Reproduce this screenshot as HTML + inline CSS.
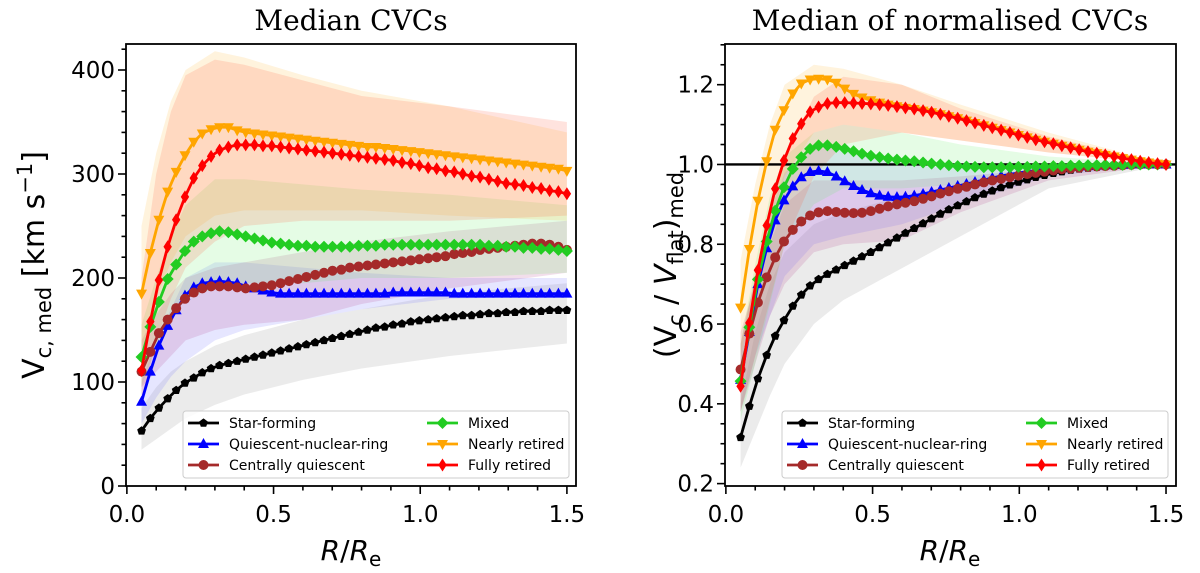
<!DOCTYPE html>
<html><head><meta charset="utf-8">
<style>
html,body{margin:0;padding:0;background:#fff;}
svg{display:block;font-family:"DejaVu Sans","Liberation Sans",sans-serif;}
</style></head>
<body>
<svg id="fig" width="1200" height="573" viewBox="0 0 1200 573" xmlns="http://www.w3.org/2000/svg">
<text x="351" y="30" font-family="DejaVu Serif, Liberation Serif, serif" font-size="28" text-anchor="middle">Median CVCs</text>
<text x="950" y="30" font-family="DejaVu Serif, Liberation Serif, serif" font-size="28" text-anchor="middle">Median of normalised CVCs</text>
<text x="351" y="560" font-size="28" text-anchor="middle"><tspan font-style="italic">R</tspan>/<tspan font-style="italic">R</tspan><tspan font-size="20" baseline-shift="-6">e</tspan></text>
<text x="950" y="560" font-size="28" text-anchor="middle"><tspan font-style="italic">R</tspan>/<tspan font-style="italic">R</tspan><tspan font-size="20" baseline-shift="-6">e</tspan></text>
<text transform="translate(44,265) rotate(-90)" font-size="30" text-anchor="middle">V<tspan font-size="21" baseline-shift="-7">c, med</tspan> [km s<tspan font-size="21" baseline-shift="12">−1</tspan>]</text>
<text transform="translate(676,265) rotate(-90)" font-size="30" text-anchor="middle">(V<tspan font-size="21" baseline-shift="-7">c</tspan> / <tspan font-style="italic">V</tspan><tspan font-size="21" baseline-shift="-7">flat</tspan>)<tspan font-size="21" baseline-shift="-7">med</tspan></text>
</svg>
<script>
const xs=[0.050,0.080,0.109,0.139,0.168,0.198,0.228,0.257,0.287,0.316,0.346,0.376,0.405,0.435,0.464,0.494,0.524,0.553,0.583,0.612,0.642,0.672,0.701,0.731,0.760,0.790,0.820,0.849,0.879,0.908,0.938,0.968,0.997,1.027,1.056,1.086,1.116,1.145,1.175,1.204,1.234,1.264,1.293,1.323,1.352,1.382,1.412,1.441,1.471,1.500];
const seriesNames=["Star-forming","Quiescent-nuclear-ring","Centrally quiescent","Mixed","Nearly retired","Fully retired"];
// Left panel (km/s)
const leftSF=[53,65,75,84,92,99,104,109,113,116,118,120,122,124,126,128,130,132,134,136,138,140,142,144,146,148,150,152,153,155,156,158,159,160,161,162,163,164,164,165,166,166,167,167,168,168,168,169,169,169];
const leftQNR=[81,110,135,154,169,183,191,195,196,197,196,195,192,190,188,186,185,185,185,185,185,185,185,185,185,185,185,185,185,186,186,186,186,186,186,186,185,185,185,185,185,185,185,185,185,185,185,185,185,185];
const leftCQ=[110,129,147,160,171,180,186,190,192,192,192,191,190,191,192,193,195,197,199,201,203,205,207,208,210,211,212,213,214,215,216,217,218,219,220,221,223,224,225,227,228,229,230,231,232,233,233,232,230,227];
const leftMixed=[124,153,177,199,213,226,235,240,243,245,244,242,240,238,236,234,233,232,231,231,230,230,230,230,230,231,231,231,232,232,232,232,232,232,232,232,232,232,232,232,231,231,230,230,229,229,228,228,227,226];
const leftNR=[185,224,256,283,302,318,331,339,343,345,345,342,340,339,338,337,336,335,334,333,332,331,330,329,328,327,326,326,325,324,323,322,321,320,319,318,317,316,315,314,313,312,311,310,309,308,307,306,305,303];
const leftFR=[111,158,198,230,256,278,296,308,317,323,326,328,328,328,327,327,326,325,324,323,322,321,320,319,318,317,316,315,314,313,311,310,308,306,305,303,302,300,298,297,295,293,291,290,289,287,286,284,283,281];
// band x grid
const bx=[0.05,0.1,0.15,0.2,0.3,0.4,0.6,0.8,1.1,1.5];
const lSFlo=[35,45,55,65,78,88,102,113,125,137], lSFhi=[75,95,110,120,135,145,160,170,185,195];
const lQNRlo=[60,85,105,120,140,150,160,170,180,183], lQNRhi=[100,140,170,200,215,215,210,205,200,200];
const lCQlo=[95,110,125,140,150,155,160,175,190,205], lCQhi=[140,165,185,200,210,215,225,235,245,255];
const lMXlo=[95,135,160,180,190,195,195,200,200,205], lMXhi=[155,200,240,270,295,295,290,285,280,270];
const lNRlo=[130,180,215,240,260,265,265,265,260,255], lNRhi=[250,320,370,400,418,412,395,380,365,340];
const lFRlo=[80,140,180,210,235,250,255,255,255,260], lFRhi=[200,300,360,395,410,405,390,375,365,350];
// Right panel (normalised)
const rightSF=[0.316,0.394,0.463,0.522,0.570,0.609,0.645,0.673,0.696,0.712,0.725,0.736,0.747,0.758,0.769,0.780,0.792,0.804,0.816,0.828,0.840,0.852,0.864,0.876,0.887,0.897,0.907,0.917,0.926,0.934,0.942,0.949,0.956,0.962,0.968,0.973,0.978,0.982,0.986,0.989,0.991,0.993,0.995,0.996,0.997,0.998,0.999,1.0,1.0,1.0];
const rightQNR=[0.46,0.58,0.70,0.79,0.86,0.91,0.945,0.968,0.981,0.984,0.981,0.970,0.958,0.946,0.936,0.928,0.922,0.919,0.918,0.919,0.922,0.926,0.931,0.936,0.941,0.946,0.951,0.956,0.961,0.966,0.971,0.975,0.979,0.982,0.985,0.988,0.990,0.992,0.994,0.995,0.996,0.997,0.998,0.999,0.999,1.0,1.0,1.0,1.0,1.0];
const rightCQ=[0.486,0.576,0.654,0.717,0.767,0.807,0.836,0.857,0.872,0.880,0.883,0.881,0.879,0.878,0.879,0.883,0.889,0.895,0.900,0.904,0.908,0.914,0.920,0.927,0.933,0.939,0.944,0.950,0.955,0.960,0.964,0.968,0.972,0.976,0.979,0.982,0.985,0.988,0.990,0.992,0.994,0.995,0.996,0.997,0.998,0.999,1.0,1.0,1.0,1.0];
const rightMixed=[0.457,0.592,0.712,0.807,0.884,0.943,0.989,1.018,1.039,1.048,1.048,1.044,1.039,1.033,1.027,1.022,1.018,1.015,1.012,1.010,1.008,1.005,1.002,1.000,0.998,0.996,0.995,0.994,0.993,0.993,0.993,0.993,0.994,0.994,0.995,0.995,0.996,0.996,0.997,0.997,0.998,0.998,0.999,0.999,0.999,1.0,1.0,1.0,1.0,1.0];
const rightNR=[0.641,0.788,0.909,1.008,1.087,1.136,1.178,1.203,1.213,1.215,1.213,1.205,1.190,1.177,1.168,1.161,1.155,1.150,1.146,1.142,1.139,1.135,1.131,1.126,1.121,1.116,1.110,1.104,1.098,1.092,1.086,1.080,1.074,1.068,1.062,1.057,1.052,1.047,1.042,1.037,1.032,1.028,1.024,1.020,1.016,1.012,1.008,1.005,1.002,1.0];
const rightFR=[0.444,0.603,0.735,0.847,0.939,1.010,1.065,1.102,1.132,1.144,1.153,1.155,1.155,1.154,1.153,1.152,1.150,1.148,1.145,1.142,1.139,1.135,1.131,1.126,1.121,1.116,1.110,1.104,1.098,1.092,1.086,1.080,1.074,1.068,1.062,1.057,1.052,1.047,1.042,1.037,1.032,1.028,1.024,1.020,1.016,1.012,1.008,1.005,1.002,1.0];
const rSFlo=[0.24,0.33,0.42,0.50,0.60,0.66,0.74,0.82,0.94,1.0], rSFhi=[0.40,0.58,0.70,0.78,0.85,0.88,0.92,0.95,0.98,1.0];
const rQNRlo=[0.38,0.52,0.62,0.72,0.80,0.82,0.85,0.90,0.97,1.0], rQNRhi=[0.55,0.72,0.88,0.98,1.04,1.04,1.0,0.99,0.99,1.0];
const rCQlo=[0.38,0.50,0.62,0.70,0.78,0.80,0.81,0.88,0.96,1.0], rCQhi=[0.58,0.70,0.80,0.90,0.96,0.96,0.96,0.97,0.99,1.0];
const rMXlo=[0.36,0.50,0.65,0.80,0.90,0.94,0.94,0.95,0.98,1.0], rMXhi=[0.55,0.75,0.92,1.02,1.08,1.10,1.08,1.05,1.02,1.0];
const rNRlo=[0.52,0.70,0.85,0.97,1.08,1.10,1.08,1.06,1.03,1.0], rNRhi=[0.76,0.95,1.10,1.20,1.25,1.24,1.20,1.15,1.08,1.0];
const rFRlo=[0.38,0.52,0.66,0.80,0.97,1.05,1.08,1.06,1.03,1.0], rFRhi=[0.55,0.72,0.88,1.02,1.17,1.22,1.20,1.14,1.07,1.0];
const xTicks=[0.0,0.5,1.0,1.5];
const xTickLabels=["0.0","0.5","1.0","1.5"];
const leftYTicks=[0,100,200,300,400];
const leftYTickLabels=["0","100","200","300","400"];
const rightYTicks=[0.2,0.4,0.6,0.8,1.0,1.2];
const rightYTickLabels=["0.2","0.4","0.6","0.8","1.0","1.2"];

const NS="http://www.w3.org/2000/svg";
const svg=document.getElementById('fig');
const colors=["#000000","#0000ff","#a52a2a","#22cc22","#ffa500","#ff0000"];
const bandColors=["#888888","#6a6aff","#b03a8a","#66ee66","#ffb833","#ff5a3a"];
function mk(tag,attrs,parent){const e=document.createElementNS(NS,tag);for(const k in attrs)e.setAttribute(k,attrs[k]);(parent||svg).appendChild(e);return e;}

function marker(g,kind,x,y,c){
  let e;
  if(kind===0){
    const r=4.6;let p=[];for(let k=0;k<5;k++){const a=-Math.PI/2+k*2*Math.PI/5;p.push((x+r*Math.cos(a)).toFixed(1)+","+(y+r*Math.sin(a)).toFixed(1));}
    e=mk('polygon',{points:p.join(' '),fill:c},g);
  }else if(kind===1){e=mk('polygon',{points:`${x},${y-6} ${x-5.5},${y+4} ${x+5.5},${y+4}`,fill:c},g);}
  else if(kind===2){e=mk('circle',{cx:x,cy:y,r:5,fill:c},g);}
  else if(kind===3){e=mk('polygon',{points:`${x},${y-6} ${x+6},${y} ${x},${y+6} ${x-6},${y}`,fill:c},g);}
  else if(kind===4){e=mk('polygon',{points:`${x},${y+6} ${x-5.5},${y-4} ${x+5.5},${y-4}`,fill:c},g);}
  else {e=mk('polygon',{points:`${x},${y-6.5} ${x+4.2},${y} ${x},${y+6.5} ${x-4.2},${y}`,fill:c},g);}
  
  
}

function panel(o){
  const X=v=>o.x0+(v-o.xmin)*(o.x1-o.x0)/(o.xmax-o.xmin);
  const Y=v=>o.y1-(v-o.ymin)*(o.y1-o.y0)/(o.ymax-o.ymin);
  const g=mk('g',{});
  
  
  o.bands.forEach((b,i)=>{
    let pts=[];bx.forEach((v,k)=>pts.push(X(v).toFixed(1)+","+Y(b[1][k]).toFixed(1)));
    for(let k=bx.length-1;k>=0;k--)pts.push(X(bx[k]).toFixed(1)+","+Y(b[0][k]).toFixed(1));
    const p=mk('polygon',{points:pts.join(' '),fill:bandColors[i],'fill-opacity':0.17},g);
    
    
  });
  if(o.hline!==undefined){
    const h=mk('line',{x1:o.x0,x2:o.x1,y1:Y(o.hline),y2:Y(o.hline),stroke:'#000','stroke-width':2.4},g);
    
    
  }
  o.series.forEach((s,i)=>{
    const sg=mk('g',{},g);
    
    
    const pl=mk('polyline',{points:s.map((v,k)=>X(xs[k]).toFixed(1)+","+Y(v).toFixed(1)).join(' '),fill:'none',stroke:colors[i],'stroke-width':2.8},sg);
    
    
    s.forEach((v,k)=>marker(sg,i,X(xs[k]),Y(v),colors[i]));
  });
  const fr=mk('rect',{x:o.x0,y:o.y0,width:o.x1-o.x0,height:o.y1-o.y0,fill:'none',stroke:'#000','stroke-width':1.8});
  
  
  for(let t=0;t<=15;t++){const v=t/10;const x=X(v);const major=t%5===0;
    const l=mk('line',{x1:x,x2:x,y1:o.y1,y2:o.y1+(major?8:4.5),stroke:'#000','stroke-width':1.6});
    
    }
  xTicks.forEach((v,k)=>{const t=mk('text',{x:X(v),y:522,'font-size':23,'text-anchor':'middle'});t.textContent=xTickLabels[k];
    
    });
  for(let v=o.ymin0;v<=o.ymax+1e-9;v+=o.minor){const y=Y(v);if(y<o.y0-0.5)break;
    const major=Math.abs(v/o.majorStep-Math.round(v/o.majorStep))<1e-6;
    const l=mk('line',{x1:o.x0,x2:o.x0-(major?8:4.5),y1:y,y2:y,stroke:'#000','stroke-width':1.6});
    
    }
  o.yt.forEach((v,k)=>{const t=mk('text',{x:o.x0-11,y:Y(v)+8,'font-size':23,'text-anchor':'end'});t.textContent=o.ytl[k];
    
    });
  const lg=mk('g',{});
  
  
  const lx=o.legX,ly=411;
  mk('rect',{x:lx,y:ly,width:386,height:67,rx:3,fill:'#fff','fill-opacity':0.8,stroke:'#ccc','stroke-width':1},lg);
  seriesNames.forEach((n,i)=>{const col=Math.floor(i/3),row=i%3;
    const ex=lx+5+col*239, ey=ly+12+row*21;
    const eg=mk('g',{},lg);
    
    
    mk('line',{x1:ex,x2:ex+31,y1:ey,y2:ey,stroke:colors[i],'stroke-width':2.8},eg);
    marker(eg,i,ex+15.5,ey,colors[i]);
    const t=mk('text',{x:ex+41,y:ey+5,'font-size':14},eg);t.textContent=n;
  });
}
panel({name:'left',x0:126,x1:576,y0:44,y1:486,xmin:-0.003,xmax:1.531,ymin:0,ymax:425,ymin0:0,minor:20,majorStep:100,
  yt:leftYTicks,ytl:leftYTickLabels,legX:183,
  series:[leftSF,leftQNR,leftCQ,leftMixed,leftNR,leftFR],
  bands:[[lSFlo,lSFhi],[lQNRlo,lQNRhi],[lCQlo,lCQhi],[lMXlo,lMXhi],[lNRlo,lNRhi],[lFRlo,lFRhi]]});
panel({name:'right',x0:725,x1:1176,y0:44,y1:486,xmin:-0.003,xmax:1.534,ymin:0.194,ymax:1.302,ymin0:0.2,minor:0.05,majorStep:0.2,
  yt:rightYTicks,ytl:rightYTickLabels,legX:782,hline:1.0,
  series:[rightSF,rightQNR,rightCQ,rightMixed,rightNR,rightFR],
  bands:[[rSFlo,rSFhi],[rQNRlo,rQNRhi],[rCQlo,rCQhi],[rMXlo,rMXhi],[rNRlo,rNRhi],[rFRlo,rFRhi]]});
</script>
</body></html>
